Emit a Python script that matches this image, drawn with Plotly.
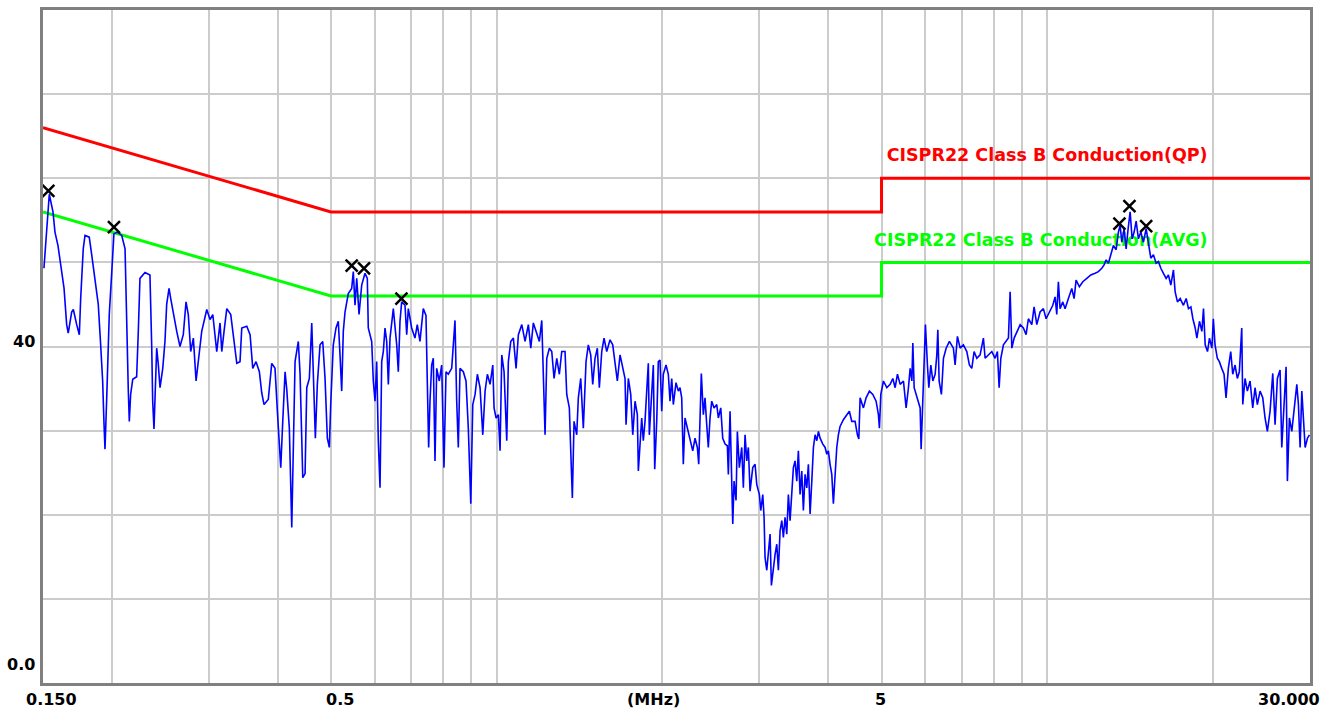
import math
import plotly.graph_objects as go

# ---------------- data ----------------
freq_mhz = [
    0.1506, 0.1540, 0.1564, 0.1577, 0.1597, 0.1622, 0.1638, 0.1656, 0.1667, 0.1691,
    0.1703, 0.1727, 0.1746, 0.1756, 0.1775, 0.1788, 0.1820, 0.1839, 0.1864, 0.1890,
    0.1909, 0.1925, 0.1936, 0.1944, 0.1958, 0.1979, 0.2000, 0.2018, 0.2047, 0.2085,
    0.2114, 0.2129, 0.2143, 0.2152, 0.2164, 0.2183, 0.2219, 0.2234, 0.2250, 0.2298,
    0.2346, 0.2363, 0.2373, 0.2386, 0.2399, 0.2413, 0.2429, 0.2447, 0.2475, 0.2498,
    0.2516, 0.2541, 0.2559, 0.2587, 0.2624, 0.2660, 0.2697, 0.2728, 0.2754, 0.2782,
    0.2813, 0.2845, 0.2872, 0.2913, 0.2975, 0.3016, 0.3051, 0.3080, 0.3102, 0.3145,
    0.3168, 0.3198, 0.3235, 0.3289, 0.3325, 0.3373, 0.3419, 0.3444, 0.3517, 0.3566,
    0.3606, 0.3656, 0.3707, 0.3744, 0.3780, 0.3848, 0.3904, 0.3958, 0.3997, 0.4030,
    0.4054, 0.4088, 0.4128, 0.4157, 0.4202, 0.4245, 0.4273, 0.4304, 0.4363, 0.4395,
    0.4445, 0.4488, 0.4520, 0.4569, 0.4615, 0.4646, 0.4685, 0.4724, 0.4778, 0.4832,
    0.4879, 0.4926, 0.4967, 0.4996, 0.5050, 0.5108, 0.5157, 0.5194, 0.5231,
    0.5266, 0.5304, 0.5377, 0.5454, 0.5491, 0.5530, 0.5570, 0.5624, 0.5687, 0.5766,
    0.5822, 0.5846, 0.5930, 0.5970, 0.6013, 0.6055, 0.6096, 0.6140, 0.6183, 0.6225,
    0.6269, 0.6314, 0.6357, 0.6402, 0.6491, 0.6537, 0.6584, 0.6628, 0.6675, 0.6722,
    0.6816, 0.6865, 0.6911, 0.7009, 0.7106, 0.7175, 0.7256, 0.7357, 0.7441, 0.7482,
    0.7525, 0.7567, 0.7620, 0.7672, 0.7727, 0.7782, 0.7867, 0.7946, 0.8023, 0.8091,
    0.8169, 0.8286, 0.8342, 0.8401, 0.8461, 0.8518, 0.8579, 0.8698, 0.8797, 0.8882,
    0.8974, 0.9049, 0.9137, 0.9225, 0.9329, 0.9436, 0.9527, 0.9619, 0.9729, 0.9839,
    0.9892, 0.9975, 1.0071, 1.0143, 1.0216, 1.0314, 1.0431, 1.0501, 1.0607, 1.0724,
    1.0846, 1.0950, 1.1108, 1.1261, 1.1418, 1.1533, 1.1658, 1.1826, 1.1955, 1.2076,
    1.2157, 1.2243, 1.2331, 1.2466, 1.2591, 1.2713, 1.2857, 1.2997, 1.3128, 1.3310,
    1.3405, 1.3552, 1.3631, 1.3723, 1.3821, 1.3977, 1.4071, 1.4213, 1.4368, 1.4531,
    1.4671, 1.4819, 1.4944, 1.5089, 1.5235, 1.5363, 1.5518, 1.5668, 1.5846, 1.6066,
    1.6248, 1.6405, 1.6564, 1.6752, 1.6942, 1.7106, 1.7178, 1.7344, 1.7519, 1.7666,
    1.7837, 1.8009, 1.8085,
    1.8342, 1.8464, 1.8596, 1.8729, 1.8855, 1.8934, 1.9124, 1.9254, 1.9366, 1.9528,
    1.9660, 1.9800, 1.9942, 2.0075, 2.0304, 2.0500, 2.0646, 2.0794, 2.0932, 2.1170,
    2.1376, 2.1526, 2.1680, 2.1826, 2.1982, 2.2194, 2.2446, 2.2704, 2.2924, 2.3146,
    2.3280, 2.3408, 2.3534, 2.3732, 2.3900, 2.4072, 2.4232, 2.4406, 2.4580, 2.4818,
    2.5102, 2.5270, 2.5526, 2.5740, 2.5990, 2.6240, 2.6350, 2.6538, 2.6726, 2.6840,
    2.6986, 2.7212, 2.7360, 2.7590, 2.7868, 2.8056, 2.8256, 2.8458, 2.8648, 2.8852,
    2.9180, 2.9464, 2.9674, 3.0000, 3.0176, 3.0429, 3.0594, 3.0722, 3.0942, 3.1151,
    3.1373, 3.1545, 3.1810, 3.2037, 3.2265, 3.2481, 3.2714, 3.2947, 3.3168, 3.3403,
    3.3641, 3.3867, 3.4109, 3.4352, 3.4584, 3.4830, 3.5078, 3.5314, 3.5565, 3.5819,
    3.6060, 3.6318, 3.6578, 3.6825, 3.7089, 3.7353, 3.7605, 3.7873, 3.8144, 3.8401,
    3.8675, 3.9115, 3.9493, 3.9774, 4.0033, 4.0319, 4.0608, 4.0880, 4.1172, 4.1464,
    4.1744, 4.2040, 4.2624, 4.3240, 4.3708, 4.4152, 4.4764, 4.5200, 4.5468, 4.5716,
    4.6352, 4.6876, 4.7528, 4.8208, 4.8880, 4.9352, 4.9560, 4.9854, 5.0399, 5.1120,
    5.1830, 5.2420, 5.2925, 5.3440, 5.4050, 5.4800, 5.5415, 5.5955, 5.6355, 5.6760,
    5.6995, 5.7310, 5.7790, 5.8345, 5.8760, 5.9005, 5.9430, 5.9750, 6.0075, 6.0579,
    6.0936, 6.1446, 6.1962, 6.2562, 6.3006, 6.3276, 6.3618,
    6.4230, 6.4776, 6.5508, 6.6414, 6.7530, 6.8016, 6.8670, 6.9456, 7.0410, 7.1421,
    7.2198, 7.2933, 7.3633, 7.4473, 7.5502, 7.6559, 7.7105, 7.8169, 7.9296, 8.0402,
    8.1176, 8.1760, 8.2344, 8.3240, 8.4184, 8.5000, 8.5608, 8.6224, 8.7056, 8.8048,
    8.9280, 9.0490, 9.1521, 9.2403, 9.3726, 9.4635, 9.5706, 9.7038, 9.8388, 9.9504,
    10.088, 10.233, 10.332, 10.405, 10.475, 10.550, 10.670, 10.773, 10.923, 11.079,
    11.186, 11.280, 11.437, 11.601, 11.797, 11.996, 12.216, 12.382, 12.560, 12.681,
    12.788, 12.912, 13.042, 13.185, 13.335, 13.464, 13.560, 13.657, 13.789, 13.905,
    14.022, 14.140, 14.259, 14.379, 14.500, 14.640, 14.788, 14.949, 15.119, 15.265,
    15.419, 15.587, 15.764, 15.917, 16.077, 16.253, 16.438, 16.597, 16.764, 16.948,
    17.069, 17.234, 17.430, 17.673, 17.874, 18.047, 18.229, 18.383, 18.561, 18.694,
    18.898, 19.089, 19.217, 19.354, 19.541, 19.705, 19.904, 20.025, 20.168, 20.362,
    20.534, 20.740, 20.942, 21.118, 21.322, 21.536, 21.718, 21.928, 22.138, 22.326,
    22.550, 22.648, 22.864, 23.086, 23.348, 23.612, 23.840, 24.072, 24.346, 24.622,
    24.860, 25.102, 25.386, 25.674, 25.922, 26.174, 26.470, 26.660, 26.918, 27.146,
    27.294, 27.524, 27.802, 28.072, 28.390, 28.582, 28.786, 28.990, 29.186, 29.396,
    29.680, 29.930,
]

level_dbuv = [
    49.3, 58.1, 56.0, 53.6, 52.0, 48.9, 46.9, 42.6, 41.6, 44.1,
    44.4, 42.6, 41.4, 45.7, 51.6, 53.2, 53.0, 50.9, 48.1, 45.0,
    40.2, 35.9, 30.8, 27.8, 33.9, 43.8, 48.9, 53.4, 53.6, 53.2,
    51.6, 41.0, 34.7, 31.1, 34.3, 36.1, 36.4, 41.6, 48.1, 48.8,
    48.5, 40.2, 33.5, 30.2, 33.9, 39.8, 37.9, 35.1, 37.4, 40.6,
    45.0, 46.9, 45.7, 43.8, 41.8, 40.0, 41.4, 45.3, 43.8, 39.4,
    41.0, 35.9, 38.6, 41.8, 44.4, 43.2, 43.8, 41.0, 39.4, 42.8,
    39.4, 41.8, 44.5, 43.8, 41.0, 38.0, 38.2, 42.2, 42.4, 41.4,
    37.4, 38.2, 37.0, 34.5, 33.1, 33.7, 38.0, 37.4, 32.3, 28.0,
    25.6, 31.1, 37.0, 34.9, 30.3, 18.5, 29.9, 38.2, 40.6, 36.7,
    24.4, 24.9, 35.1, 36.2, 42.8, 37.0, 29.1, 35.5, 40.2, 40.6,
    36.2, 29.1, 28.0, 33.1, 40.2, 42.2, 43.0, 39.0, 34.7,
    41.8, 44.1, 46.3, 46.9, 48.9, 44.9, 48.1, 43.8, 47.3, 48.7,
    48.1, 42.2, 40.6, 35.9, 33.5, 38.2, 28.8, 23.2, 38.2, 39.4,
    42.2, 40.6, 35.5, 41.0, 44.5, 42.6, 40.2, 37.0, 43.0, 45.3,
    44.9, 41.4, 44.5, 42.2, 41.0, 42.6, 40.6, 44.5, 43.7, 35.9,
    28.0, 33.5, 37.8, 38.6, 26.4, 37.4, 35.9, 37.8, 25.6, 37.0,
    36.7, 37.4, 39.8, 43.1, 33.5, 28.0, 37.4, 37.0, 35.9, 30.3,
    21.3, 33.1, 34.3, 36.7, 35.1, 29.5, 34.7, 36.7, 35.5, 37.8,
    32.7, 31.5, 31.9, 27.6, 39.0, 37.0, 28.8, 38.2, 40.6, 41.0,
    37.4, 41.4, 42.6, 40.6, 42.6, 39.8, 42.8, 41.4, 40.6, 43.1,
    35.1, 29.5, 38.6, 39.8, 39.4, 36.2, 38.6, 36.7, 39.4, 39.4,
    34.3, 32.7, 27.6, 22.0, 31.1, 29.5, 33.9, 36.2, 30.3, 38.2,
    40.2, 39.0, 35.5, 38.6, 39.8, 35.1, 39.4, 41.0, 39.4, 40.8,
    40.2, 37.8, 35.9, 39.0, 37.4, 36.2, 30.7, 36.2, 34.3, 29.5,
    33.5, 31.9, 25.2,
    31.5, 28.8, 31.1, 34.7, 38.0, 29.5, 34.7, 37.8, 25.4, 31.1,
    38.2, 38.4, 32.3, 36.7, 37.8, 36.7, 33.5, 36.2, 33.1, 35.7,
    34.7, 35.1, 33.9, 26.0, 31.5, 30.3, 28.8, 27.6, 29.1, 28.0,
    26.0, 30.7, 36.8, 31.9, 33.9, 30.7, 28.0, 31.5, 33.5, 32.7,
    33.1, 31.5, 32.7, 29.1, 28.4, 28.2, 24.8, 32.3, 25.2, 18.9,
    24.0, 21.7, 29.9, 25.6, 28.0, 23.2, 29.5, 26.4, 28.0, 22.8,
    25.6, 26.0, 23.6, 22.4, 20.5, 22.4, 19.7, 14.9, 13.4, 16.1,
    17.7, 11.6, 13.8, 15.3, 16.5, 13.4, 18.1, 19.3, 17.3, 19.7,
    17.7, 22.4, 19.3, 22.4, 25.6, 26.4, 24.0, 27.6, 22.4, 25.2,
    20.5, 24.8, 23.2, 26.0, 20.1, 24.0, 28.0, 29.5, 28.8, 29.9,
    29.1, 28.4, 28.0, 27.2, 27.6, 26.0, 24.8, 21.3, 25.6, 28.0,
    29.5, 30.5, 31.3, 31.9, 32.3, 31.1, 31.1, 29.5, 29.0, 33.9,
    32.7, 33.9, 34.7, 34.3, 33.5, 31.9, 30.3, 34.3, 35.9, 35.1,
    35.5, 36.2, 35.1, 36.7, 35.5, 35.9, 32.7, 35.1, 37.4, 35.9,
    40.4, 35.1, 34.3, 33.5, 32.7, 27.8, 33.5, 37.4, 42.6, 37.8,
    35.1, 37.8, 35.9, 36.7, 39.0, 42.0, 35.9,
    34.3, 38.6, 39.8, 40.6, 39.8, 37.8, 41.2, 39.8, 40.2, 39.4,
    37.8, 37.4, 39.4, 38.6, 39.0, 41.0, 38.6, 39.0, 39.4, 38.6,
    39.4, 35.1, 38.6, 40.2, 40.6, 41.0, 46.5, 39.8, 41.0, 41.8,
    42.6, 42.2, 41.4, 43.3, 42.6, 44.7, 42.6, 44.1, 44.5, 43.3,
    44.1, 44.9, 45.9, 43.8, 47.7, 44.5, 45.3, 44.5, 45.7, 46.9,
    45.7, 47.9, 47.1, 47.7, 48.1, 48.5, 48.7, 48.9, 49.3, 49.7,
    50.3, 49.9, 50.9, 52.0, 51.5, 53.6, 54.4, 52.4, 54.0, 51.6,
    54.0, 56.0, 52.8, 53.6, 54.9, 52.8, 53.6, 52.4, 54.0, 52.4,
    50.5, 50.9, 49.9, 50.1, 49.3, 48.7, 48.1, 48.5, 47.3, 49.1,
    46.5, 45.3, 45.7, 44.9, 45.7, 44.5, 44.7, 43.3, 42.2, 41.0,
    43.0, 41.8, 44.5, 40.2, 39.4, 41.0, 39.8, 43.3, 40.2, 38.6,
    38.2, 37.4, 36.7, 33.9, 37.4, 39.4, 36.7, 37.8, 36.2, 37.0,
    42.2, 33.1, 36.2, 34.7, 35.9, 32.7, 35.1, 33.1, 34.7, 33.9,
    31.5, 29.9, 32.3, 36.8, 30.7, 36.2, 37.2, 28.0, 33.1, 37.6,
    24.0, 31.5, 29.9, 32.7, 35.5, 33.1, 28.0, 34.7, 30.7, 28.0,
    29.1, 29.5,
]

# CISPR22 Class B limit lines
qp_freq = [0.15, 0.5, 5.0, 5.0, 30.0]
qp_level = [66.0, 56.0, 56.0, 60.0, 60.0]
avg_freq = [0.15, 0.5, 5.0, 5.0, 30.0]
avg_level = [56.0, 46.0, 46.0, 50.0, 50.0]

# marked peaks
peak_freq = [0.1534, 0.2018, 0.5454, 0.5742, 0.6715, 13.52, 14.10, 15.12]
peak_level = [58.5, 54.2, 49.6, 49.3, 45.7, 54.6, 56.7, 54.3]

qp_label = "CISPR22 Class B Conduction(QP)"
avg_label = "CISPR22 Class B Conduction(AVG)"

grid_freqs = [0.2, 0.3, 0.4, 0.5, 0.6, 0.7, 0.8, 0.9, 1, 2, 3, 4, 5, 6, 7, 8, 9, 10, 20]
x_labels = ["0.150", "0.5", "5", "30.000"]
x_label_freqs = [0.15, 0.5, 5.0, 30.0]
y_labels = ["40", "0.0"]
y_label_vals = [40, 0]

# ---------------- figure ----------------
FONT = "DejaVu Sans"
fig = go.Figure()

fig.add_trace(go.Scatter(x=qp_freq, y=qp_level, mode="lines",
                         line=dict(color="#ff0000", width=3), hoverinfo="skip"))
fig.add_trace(go.Scatter(x=avg_freq, y=avg_level, mode="lines",
                         line=dict(color="#00ff00", width=3), hoverinfo="skip"))

# limit labels (as text traces so the spectrum draws over them)
fig.add_trace(go.Scatter(x=[19.55], y=[62.6], mode="text", text=[f"<b>{qp_label}</b>"],
                         textposition="middle left",
                         textfont=dict(family=FONT, size=17.5, color="#ff0000")))
fig.add_trace(go.Scatter(x=[19.55], y=[52.5], mode="text", text=[f"<b>{avg_label}</b>"],
                         textposition="middle left",
                         textfont=dict(family=FONT, size=17.5, color="#00ff00")))

fig.add_trace(go.Scatter(x=freq_mhz, y=level_dbuv, mode="lines",
                         line=dict(color="#0000ff", width=1.6), hoverinfo="skip"))

fig.add_trace(go.Scatter(x=peak_freq, y=peak_level, mode="markers",
                         marker=dict(symbol="x-thin", size=12,
                                     line=dict(color="#000000", width=2.5))))

annotations = []
x_shifts = [8, 9, -1, -21]
for txt, f, sh in zip(x_labels, x_label_freqs, x_shifts):
    annotations.append(dict(x=math.log10(f), xref="x", y=0, yref="paper",
                            text=f"<b>{txt}</b>", showarrow=False, xanchor="center",
                            yanchor="middle", xshift=sh, yshift=-16,
                            font=dict(family=FONT, size=16, color="#000000")))
annotations.append(dict(x=0.4822, xref="paper", y=0, yref="paper", text="<b>(MHz)</b>",
                        showarrow=False, xanchor="center", yanchor="middle", yshift=-16,
                        font=dict(family=FONT, size=16, color="#000000")))
y_shifts = [5, 19]
for txt, v, sh in zip(y_labels, y_label_vals, y_shifts):
    annotations.append(dict(x=0, xref="paper", y=v, yref="y", text=f"<b>{txt}</b>",
                            showarrow=False, xanchor="right", yanchor="middle",
                            xshift=-6, yshift=sh,
                            font=dict(family=FONT, size=16, color="#000000")))

fig.update_layout(
    width=1333, height=713,
    margin=dict(l=43, r=23, t=7, b=30),
    paper_bgcolor="white", plot_bgcolor="white",
    showlegend=False,
    annotations=annotations,
    xaxis=dict(type="log", range=[math.log10(0.15), math.log10(30)],
               tickvals=grid_freqs, showticklabels=False, ticks="",
               showgrid=True, gridcolor="#cccccc", gridwidth=2,
               showline=True, linecolor="#808080", linewidth=3, mirror=True,
               zeroline=False, fixedrange=True),
    yaxis=dict(range=[0, 80], dtick=10, showticklabels=False, ticks="",
               showgrid=True, gridcolor="#cccccc", gridwidth=2,
               showline=True, linecolor="#808080", linewidth=3, mirror=True,
               zeroline=False, fixedrange=True),
)

fig.write_html(
    "out.html",
    config={"displayModeBar": False},
    post_script="document.body.style.margin='0';document.body.style.overflow='hidden';",
)
